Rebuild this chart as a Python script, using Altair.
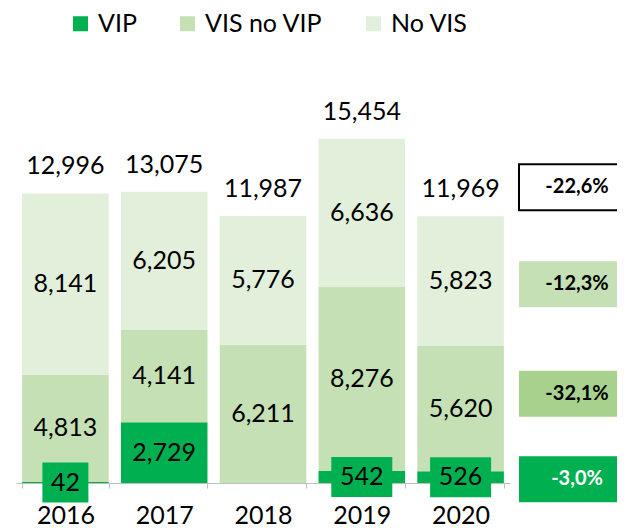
import altair as alt
import pandas as pd

# ---- data ----
years = ["2016", "2017", "2018", "2019", "2020"]
series = ["VIP", "VIS no VIP", "No VIS"]
vip = [42, 2729, 0, 542, 526]
vis_no_vip = [4813, 4141, 6211, 8276, 5620]
no_vis = [8141, 6205, 5776, 6636, 5823]
totals = [12996, 13075, 11987, 15454, 11969]
# change 2020 vs 2019: total, No VIS, VIS no VIP, VIP
change_labels = ["-22,6%", "-12,3%", "-32,1%", "-3,0%"]

colors = ["#00B050", "#C5E0B4", "#E2EFDA"]
FONT = "Lato"
FS = 25

rows = []
for i, yr in enumerate(years):
    base = 0
    for s, vals in zip(series, [vip, vis_no_vip, no_vis]):
        v = vals[i]
        rows.append(dict(year=yr, series=s, value=v, y0=base, y1=base + v, mid=base + v / 2))
        base += v
seg = pd.DataFrame(rows)
tot = pd.DataFrame(dict(year=years, total=totals))

yscale = alt.Scale(domain=[0, 18000])
xenc = alt.X(
    "year:N",
    sort=years,
    scale=alt.Scale(paddingInner=0.124, paddingOuter=0.062),
    axis=alt.Axis(
        title=None, labelAngle=0, labelFont=FONT, labelFontSize=FS, labelColor="black",
        domainColor="#BFBFBF", tickColor="#BFBFBF", tickSize=5, tickBand="extent",
        labelPadding=15, grid=False,
    ),
)

bars = alt.Chart(seg).mark_bar().encode(
    x=xenc,
    y=alt.Y("y0:Q", scale=yscale, axis=None),
    y2="y1:Q",
    color=alt.Color(
        "series:N",
        scale=alt.Scale(domain=series, range=colors),
        legend=alt.Legend(
            title=None, orient="none", legendX=52, legendY=-71, direction="horizontal",
            symbolType="square", symbolSize=225, symbolStrokeWidth=0,
            labelFont=FONT, labelFontSize=FS, labelColor="black", labelOffset=5,
            columnPadding=38, labelLimit=300,
        ),
    ),
)

seg_labels = alt.Chart(seg).transform_filter("datum.value >= 1000").mark_text(
    font=FONT, fontSize=FS, color="black", baseline="middle", align="center"
).encode(x=alt.X("year:N", sort=years), y=alt.Y("mid:Q", scale=yscale), text=alt.Text("value:Q", format=","))

tot_labels = alt.Chart(tot).mark_text(
    font=FONT, fontSize=FS, color="black", baseline="middle", align="center", dy=-27
).encode(x=alt.X("year:N", sort=years), y=alt.Y("total:Q", scale=yscale), text=alt.Text("total:Q", format=","))


def box_path(w, h):
    r = h / w
    return f"M-1,-{r:.4f}L1,-{r:.4f}L1,{r:.4f}L-1,{r:.4f}Z"


layers = [bars, seg_labels, tot_labels]

# small VIP values: label in a dark green box
small = seg[(seg.series == "VIP") & (seg.value > 0) & (seg.value < 1000)].copy()
for _, r in small.iterrows():
    nd = len(str(int(r.value)))
    bw, bh = 16 + 15 * nd, 40
    d = pd.DataFrame([r])
    layers.append(
        alt.Chart(d).mark_point(
            shape=box_path(bw, bh), size=bw * bw, filled=True, color="#00B050", opacity=1, strokeWidth=0
        ).encode(x=alt.X("year:N", sort=years), y=alt.Y("mid:Q", scale=yscale))
    )
    layers.append(
        alt.Chart(d).mark_text(font=FONT, fontSize=FS, color="black", baseline="middle", align="center").encode(
            x=alt.X("year:N", sort=years), y=alt.Y("mid:Q", scale=yscale), text=alt.Text("value:Q", format=",")
        )
    )

# callouts on the right, aligned to the 2020 stack
s20 = seg[seg.year == "2020"].set_index("series")
call_y = [totals[-1], s20.loc["No VIS", "mid"], s20.loc["VIS no VIP", "mid"], s20.loc["VIP", "mid"]]
call_off = [-29, 3, -15, 2]
call_fill = ["white", "#C5E0B4", "#A9D18E", "#00B050"]
call_stroke = ["black", "#C5E0B4", "#A9D18E", "#00B050"]
call_text = ["black", "black", "black", "white"]
for lab, yv, off, fl, st, tc in zip(change_labels, call_y, call_off, call_fill, call_stroke, call_text):
    d = pd.DataFrame(dict(y=[yv], label=[lab]))
    layers.append(
        alt.Chart(d).mark_point(
            shape=box_path(106, 46), size=106 * 106, filled=True, fill=fl, stroke=st,
            strokeWidth=2 if st == "black" else 0, opacity=1, yOffset=off,
        ).encode(x=alt.value(556), y=alt.Y("y:Q", scale=yscale))
    )
    layers.append(
        alt.Chart(d).mark_text(
            font=FONT, fontSize=20, fontWeight="bold", color=tc, baseline="middle", align="center", yOffset=off
        ).encode(x=alt.value(561), y=alt.Y("y:Q", scale=yscale), text="label:N")
    )

chart = alt.layer(*layers).properties(
    width=494, height=401,
    autosize=alt.AutoSizeParams(type="none"),
    padding={"left": 8, "top": 74, "right": 107, "bottom": 45},
).configure_view(strokeWidth=0)

chart.save("out.html", embed_options={"renderer": "svg", "actions": False})
